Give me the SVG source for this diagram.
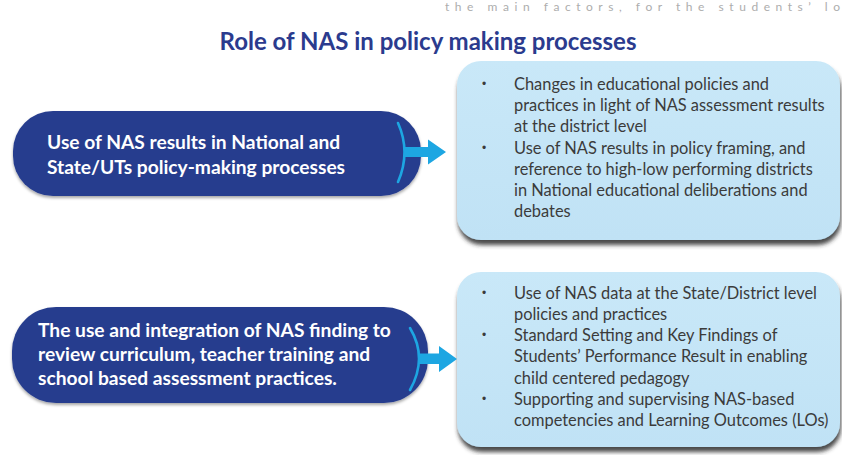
<svg xmlns="http://www.w3.org/2000/svg" width="842" height="455" viewBox="0 0 842 455">
  <defs>
    <filter id="boxShadow" x="-5%" y="-5%" width="115%" height="125%">
      <feGaussianBlur in="SourceAlpha" stdDeviation="2.2"/>
      <feOffset dx="1" dy="5" result="b"/>
      <feFlood flood-color="#2a2a2a" flood-opacity="0.85"/>
      <feComposite in2="b" operator="in"/>
      <feMerge><feMergeNode/><feMergeNode in="SourceGraphic"/></feMerge>
    </filter>
    <filter id="pillShadow" x="-5%" y="-10%" width="110%" height="125%">
      <feGaussianBlur in="SourceAlpha" stdDeviation="1.5"/>
      <feOffset dx="0" dy="2" result="b"/>
      <feFlood flood-color="#000" flood-opacity="0.35"/>
      <feComposite in2="b" operator="in"/>
      <feMerge><feMergeNode/><feMergeNode in="SourceGraphic"/></feMerge>
    </filter>
    <linearGradient id="boxFill" x1="0" y1="0" x2="0" y2="1">
      <stop offset="0" stop-color="#c9e8f8"/>
      <stop offset="1" stop-color="#c0e2f5"/>
    </linearGradient>
  </defs>
  <style>
    .pill { fill: #283e8e; }
    .box { fill: url(#boxFill); }
    .arc { fill: none; stroke: #1da6e2; stroke-width: 2.6; stroke-linecap: round; }
    .shaft { fill: #1da6e2; }
    .title { font-family: Lato, "Liberation Sans", sans-serif; font-weight: 700; font-size: 24px; fill: #2b3b8e; }
    .lead { font-family: Lato, "Liberation Sans", sans-serif; font-weight: 700; font-size: 19.2px; fill: #ffffff; }
    .item { font-family: Lato, "Liberation Sans", sans-serif; font-size: 16.4px; fill: #3b3b3b; }
    .dot { font-family: "Liberation Sans", sans-serif; font-size: 12px; fill: #3b3b3b; }
    .cut { font-family: Lato, "Liberation Sans", sans-serif; font-size: 12px; fill: #adadad; }
  </style>

  <rect width="842" height="455" fill="#ffffff"/>

  <!-- faint running text along the top edge -->
  <text class="cut" x="445" y="11" textLength="395">the main factors, for the students’ lo</text>

  <text class="title" x="428" y="50" text-anchor="middle">Role of NAS in policy making processes</text>

  <!-- first row -->
  <g id="policy-use">
    <rect class="pill" x="13" y="111" width="408" height="85" rx="40" filter="url(#pillShadow)"/>
    <text class="lead" text-anchor="middle">
      <tspan x="196" y="149">Use of NAS results in National and</tspan>
      <tspan x="196" y="174">State/UTs policy-making processes</tspan>
    </text>
  </g>

  <g id="policy-outcomes">
    <rect class="box" x="457" y="61" width="383" height="179" rx="24" filter="url(#boxShadow)"/>
    <text class="dot" x="482" y="88">•</text>
    <text class="dot" x="482" y="152">•</text>
    <text class="item">
      <tspan x="514" y="90">Changes in educational policies and</tspan>
      <tspan x="514" y="111">practices in light of NAS assessment results</tspan>
      <tspan x="514" y="132">at the district level</tspan>
      <tspan x="514" y="154">Use of NAS results in policy framing, and</tspan>
      <tspan x="514" y="175">reference to high-low performing districts</tspan>
      <tspan x="514" y="196">in National educational deliberations and</tspan>
      <tspan x="514" y="217">debates</tspan>
    </text>
  </g>

  <!-- second row -->
  <g id="curriculum-use">
    <rect class="pill" x="12" y="307" width="416" height="96" rx="44" filter="url(#pillShadow)"/>
    <text class="lead">
      <tspan x="38" y="337">The use and integration of NAS finding to</tspan>
      <tspan x="38" y="361">review curriculum, teacher training and</tspan>
      <tspan x="38" y="385">school based assessment practices.</tspan>
    </text>
  </g>

  <g id="curriculum-outcomes">
    <rect class="box" x="457" y="272" width="383" height="175" rx="24" filter="url(#boxShadow)"/>
    <text class="dot" x="482" y="297">•</text>
    <text class="dot" x="482" y="339">•</text>
    <text class="dot" x="482" y="403">•</text>
    <text class="item">
      <tspan x="514" y="299">Use of NAS data at the State/District level</tspan>
      <tspan x="514" y="320">policies and practices</tspan>
      <tspan x="514" y="341">Standard Setting and Key Findings of</tspan>
      <tspan x="514" y="362">Students’ Performance Result in enabling</tspan>
      <tspan x="514" y="384">child centered pedagogy</tspan>
      <tspan x="514" y="405">Supporting and supervising NAS-based</tspan>
      <tspan x="514" y="426">competencies and Learning Outcomes (LOs)</tspan>
    </text>
  </g>

  <!-- connectors: bracket arc with arrow out of each pill -->
  <g id="connectors">
    <path class="arc" d="M398,123 Q411,152 398,182"/>
    <path class="shaft" d="M404,147 H428 V139.5 L446,152 L428,164.5 V157 H404 Z"/>
    <path class="arc" d="M410,328 Q428,358 410,390"/>
    <path class="shaft" d="M418,353.5 H439 V346 L457,359 L439,372 V364 H418 Z"/>
  </g>
</svg>
